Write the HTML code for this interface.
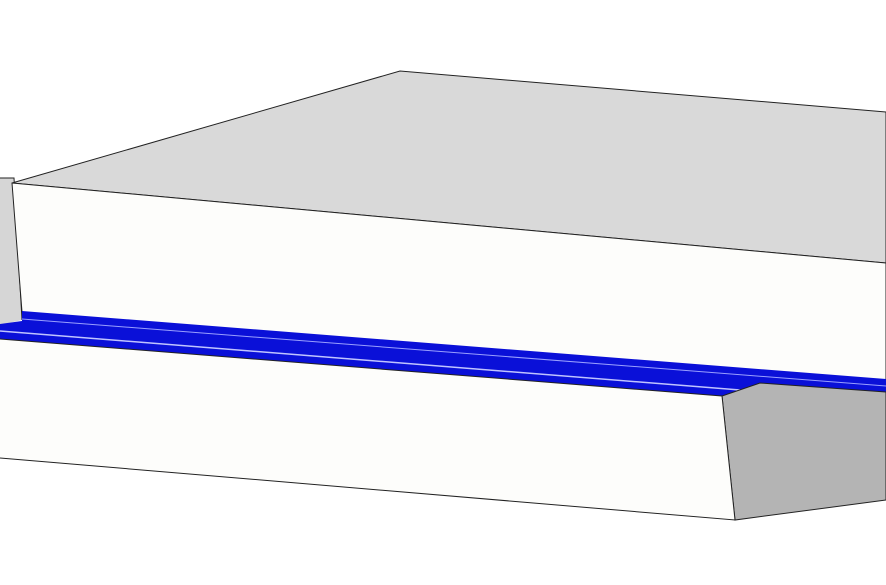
<!DOCTYPE html>
<html><head><meta charset="utf-8"><style>html,body{margin:0;padding:0;background:#fff}svg{display:block}</style></head>
<body>
<svg width="886" height="585" viewBox="0 0 886 585">
<rect width="886" height="585" fill="#ffffff"/>
<polygon points="0,178 14,178 22,320 0,325" fill="#d6d6d6"/>
<polyline points="0,178 14,178 22,320" fill="none" stroke="#222" stroke-width="1"/>
<polygon points="12,183 400,71 886,112 886,263" fill="#d9d9d9" stroke="#222" stroke-width="1"/>
<polygon points="12,183 886,263 886,382 22,312" fill="#fdfdfb" stroke="#222" stroke-width="1"/>
<polygon points="22,311 886,379 886,392 760,384 722,396 0,339 0,324 22,321" fill="#0a10d8"/>
<polyline points="22,319 886,386" fill="none" stroke="#9aa0ff" stroke-width="1"/>
<polyline points="0,331 740,390" fill="none" stroke="#c0c4ff" stroke-width="1.5"/>
<polygon points="722,396 760,383 886,392 886,500 735,520" fill="#b4b4b4" stroke="#222" stroke-width="1"/>
<polygon points="0,339 722,396 735,520 0,458" fill="#fdfdfb"/>
<polyline points="0,339 722,396 735,520 0,458" fill="none" stroke="#222" stroke-width="1"/>
</svg>
</body></html>
